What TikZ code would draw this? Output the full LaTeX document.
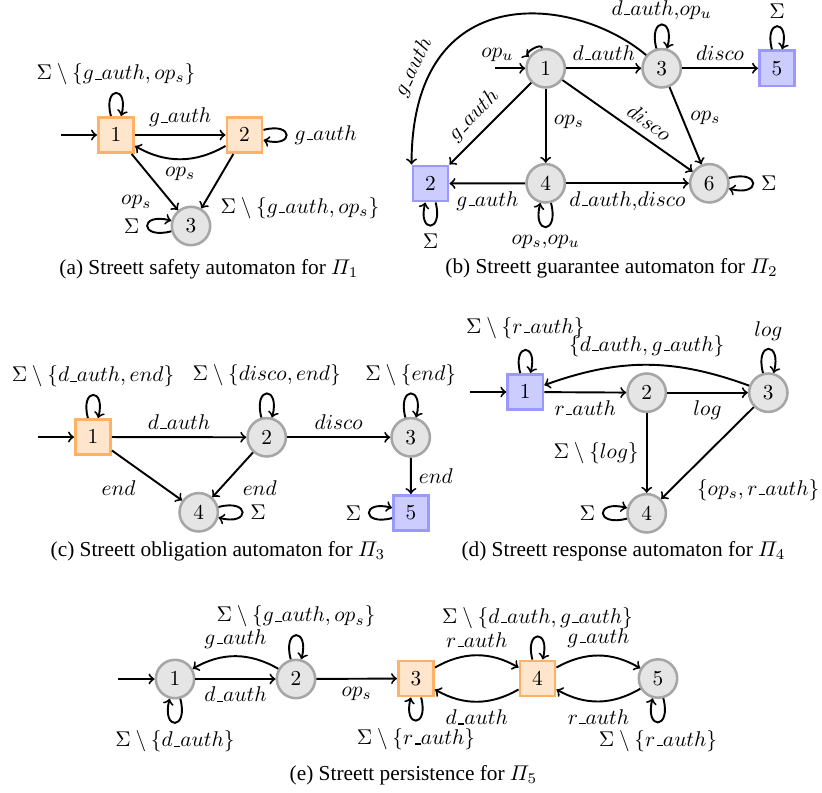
\documentclass[tikz,border=0pt]{standalone}
\usepackage{amsmath}
\usepackage[no-math]{fontspec}
\setmainfont{Liberation Serif}
\newcommand{\usc}{\kern.06em\vbox{\hrule width.3em height.5pt}}
\tikzstyle{round state}=[circle, draw=gray!70, fill=gray!20, line width=1.2pt, minimum size=18pt, inner sep=0pt]
\tikzstyle{orange state}=[rectangle, draw=orange!60, fill=orange!20, line width=1.2pt, minimum size=16.6pt, inner sep=0pt]
\tikzstyle{blue state}=[rectangle, draw=blue!40, fill=blue!20, line width=1.2pt, minimum size=16.6pt, inner sep=0pt]
\tikzstyle{trans}=[->, line width=0.9pt]
\tikzstyle{caption}=[font=\fontsize{10}{12}\selectfont]

\begin{document}
\begin{tikzpicture}[x=0.469pt, y=0.469pt]
  \useasboundingbox (0,-793) rectangle (822,0);

  % (a) safety
  \coordinate (a_0) at (61,-135);
  \node[orange state] (a_1) at (116,-135) {$1$};
  \node[orange state] (a_2) at (244.5,-135) {$2$};
  \node[round state] (a_3) at (191,-226) {$3$};
  \draw[trans] (a_0) -- (a_1);
  \draw[trans] (a_1) to[loop above] node[above] {$\Sigma\setminus\{g\usc auth, op_s\}$} (a_1);
  \draw[trans] (a_1) -- node[above] {$g\usc auth$} (a_2);
  \draw[trans] (a_2) to[loop right] node[right] {$g\usc auth$} (a_2);
  \draw[trans] (a_2) to[bend left=30] node[below] {$op_s$} (a_1);
  \draw[trans] (a_1) -- node[pos=0.6, below left] {$op_s$} (a_3);
  \draw[trans] (a_2) -- node[pos=0.65, below right] {$\Sigma\setminus\{g\usc auth, op_s\}$} (a_3);
  \draw[trans] (a_3) to[loop left] node[left] {$\Sigma$} (a_3);
  \node[caption] (cap_a) at (209,-269) {(a) Streett safety automaton for $\varPi_1$};

  % (b) guarantee
  \coordinate (b_0) at (495,-68.3);
  \node[round state] (b_1) at (545.7,-68.3) {$1$};
  \node[blue state] (b_2) at (430.5,-183.5) {$2$};
  \node[round state] (b_3) at (661.7,-68.3) {$3$};
  \node[round state] (b_4) at (545.7,-183.3) {$4$};
  \node[blue state] (b_5) at (777,-68.3) {$5$};
  \node[round state] (b_6) at (709.3,-183.3) {$6$};
  \draw[trans] (b_0) -- (b_1);
  \draw[trans] (b_1) to[loop, out=100, in=145] node[pos=0.85, left=3pt] {$op_u$} (b_1);
  \draw[trans] (b_1) -- node[above] {$d\usc auth$} (b_3);
  \draw[trans] (b_3) to[loop above] node[above, inner sep=2pt] {$d\usc auth{,}op_u$} (b_3);
  \draw[trans] (b_3) -- node[above] {$disco$} (b_5);
  \draw[trans] (b_5) to[loop above] node[above] {$\Sigma$} (b_5);
  \draw[trans] (b_3) .. controls (575.7,4.6) and (412,24) .. node[pos=0.8, sloped, above] {$g\usc auth$} (b_2.north west);
  \draw[trans] (b_1) -- node[pos=0.55, sloped, above] {$g\usc auth$} (b_2);
  \draw[trans] (b_1) -- node[pos=0.45, right] {$op_s$} (b_4);
  \draw[trans] (b_1) -- node[pos=0.6, sloped, above] {$disco$} (b_6);
  \draw[trans] (b_3) -- node[pos=0.4, right] {$op_s$} (b_6);
  \draw[trans] (b_4) -- node[below] {$g\usc auth$} (b_2);
  \draw[trans] (b_4) -- node[below] {$d\usc auth{,}disco$} (b_6);
  \draw[trans] (b_4) to[loop below] node[below] {$op_s{,}op_u$} (b_4);
  \draw[trans] (b_2) to[loop below] node[below] {$\Sigma$} (b_2);
  \draw[trans] (b_6) to[loop right] node[right] {$\Sigma$} (b_6);
  \node[caption] (cap_b) at (611.5,-268) {(b) Streett guarantee automaton for $\varPi_2$};

  % (c) obligation
  \coordinate (c_0) at (38,-437);
  \node[orange state] (c_1) at (93,-437) {$1$};
  \node[round state] (c_2) at (266.7,-437.3) {$2$};
  \node[round state] (c_3) at (410.7,-437.3) {$3$};
  \node[round state] (c_4) at (198.7,-512.3) {$4$};
  \node[blue state] (c_5) at (411,-513) {$5$};
  \draw[trans] (c_0) -- (c_1);
  \draw[trans] (c_1) to[loop above] node[above] {$\Sigma\setminus\{d\usc auth, end\}$} (c_1);
  \draw[trans] (c_2) to[loop above] node[above] {$\Sigma\setminus\{disco, end\}$} (c_2);
  \draw[trans] (c_3) to[loop above] node[above] {$\Sigma\setminus\{end\}$} (c_3);
  \draw[trans] (c_1) -- node[above] {$d\usc auth$} (c_2);
  \draw[trans] (c_2) -- node[above] {$disco$} (c_3);
  \draw[trans] (c_1) -- node[pos=0.45, below left] {$end$} (c_4);
  \draw[trans] (c_2) -- node[pos=0.45, below right] {$end$} (c_4);
  \draw[trans] (c_3) -- node[right] {$end$} (c_5);
  \draw[trans] (c_4) to[loop right] node[right] {$\Sigma$} (c_4);
  \draw[trans] (c_5) to[loop left] node[left] {$\Sigma$} (c_5);
  \node[caption] (cap_c) at (218,-551) {(c) Streett obligation automaton for $\varPi_3$};

  % (d) response
  \coordinate (d_0) at (470,-392);
  \node[blue state] (d_1) at (525.3,-392) {$1$};
  \node[round state] (d_2) at (646.7,-392.7) {$2$};
  \node[round state] (d_3) at (768.3,-392.7) {$3$};
  \node[round state] (d_4) at (646.7,-513.3) {$4$};
  \draw[trans] (d_0) -- (d_1);
  \draw[trans] (d_1) to[loop above] node[above=1.5pt] {$\Sigma\setminus\{r\usc auth\}$} (d_1);
  \draw[trans] (d_1) -- node[below] {$r\usc auth$} (d_2);
  \draw[trans] (d_2) -- node[below] {$log$} (d_3);
  \draw[trans] (d_3) to[loop above] node[above] {$log$} (d_3);
  \draw[trans] (d_3) to[bend right=20] node[above] {$\{d\usc auth, g\usc auth\}$} (d_1);
  \draw[trans] (d_2) -- node[left] {$\Sigma\setminus\{log\}$} (d_4);
  \draw[trans] (d_3) -- node[pos=0.7, below right] {$\{op_s, r\usc auth\}$} (d_4);
  \draw[trans] (d_4) to[loop left] node[left] {$\Sigma$} (d_4);
  \node[caption] (cap_d) at (623.5,-551) {(d) Streett response automaton for $\varPi_4$};

  % (e) persistence
  \coordinate (e_0) at (118,-679);
  \node[round state] (e_1) at (175,-679) {$1$};
  \node[round state] (e_2) at (296,-679) {$2$};
  \node[orange state] (e_3) at (416,-678.5) {$3$};
  \node[orange state] (e_4) at (537.5,-678.5) {$4$};
  \node[round state] (e_5) at (658,-678.5) {$5$};
  \draw[trans] (e_0) -- (e_1);
  \draw[trans] (e_1) to[loop below] node[below] {$\Sigma\setminus\{d\usc auth\}$} (e_1);
  \draw[trans] (e_1) -- node[below] {$d\usc auth$} (e_2);
  \draw[trans] (e_2) to[bend right=30] node[above] {$g\usc auth$} (e_1);
  \draw[trans] (e_2) to[loop above] node[above] {$\Sigma\setminus\{g\usc auth, op_s\}$} (e_2);
  \draw[trans] (e_2) -- node[below] {$op_s$} (e_3);
  \draw[trans] (e_3) to[loop below] node[below] {$\Sigma\setminus\{r\usc auth\}$} (e_3);
  \draw[trans] (e_3) to[bend left=30] node[above] {$r\usc auth$} (e_4);
  \draw[trans] (e_4) to[bend left=30] node[below] {$d\usc auth$} (e_3);
  \draw[trans] (e_4) to[loop above] node[above] {$\Sigma\setminus\{d\usc auth, g\usc auth\}$} (e_4);
  \draw[trans] (e_4) to[bend left=30] node[above] {$g\usc auth$} (e_5);
  \draw[trans] (e_5) to[bend left=30] node[below] {$r\usc auth$} (e_4);
  \draw[trans] (e_5) to[loop below] node[below] {$\Sigma\setminus\{r\usc auth\}$} (e_5);
  \node[caption] (cap_e) at (413.5,-775) {(e) Streett persistence for $\varPi_5$};
\end{tikzpicture}
\end{document}
